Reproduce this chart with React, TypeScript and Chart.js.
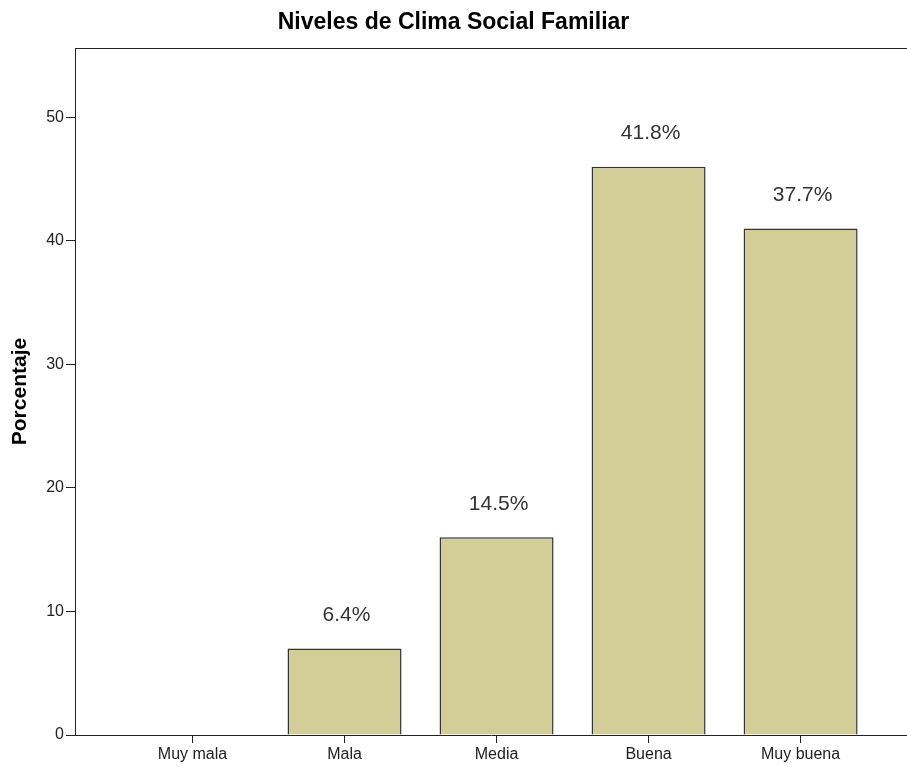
import React, { useEffect, useRef } from "react";
import { Chart, registerables } from "chart.js";

Chart.register(...registerables);

const chartTitle = "Niveles de Clima Social Familiar";
const yAxisTitle = "Porcentaje";
const categories = ["Muy mala", "Mala", "Media", "Buena", "Muy buena"];
const percentages = [0, 7, 16, 46, 41];
const barLabels = ["", "6.4%", "14.5%", "41.8%", "37.7%"];
const yTicks = [0, 10, 20, 30, 40, 50];

const FONT = "'Liberation Sans', Arial, sans-serif";
const AXIS_COLOR = "#222";

const topFramePlugin = {
  id: "topFrame",
  afterDraw(chart: any) {
    const { ctx, chartArea } = chart;
    ctx.save();
    ctx.strokeStyle = AXIS_COLOR;
    ctx.lineWidth = 1;
    ctx.beginPath();
    ctx.moveTo(chartArea.left, Math.round(chartArea.top) + 0.5);
    ctx.lineTo(chartArea.right, Math.round(chartArea.top) + 0.5);
    ctx.stroke();
    ctx.restore();
  },
};

const barLabelPlugin = {
  id: "barLabels",
  afterDatasetsDraw(chart: any) {
    const { ctx } = chart;
    const meta = chart.getDatasetMeta(0);
    ctx.save();
    ctx.font = `21px ${FONT}`;
    ctx.fillStyle = "#333";
    ctx.textAlign = "center";
    ctx.textBaseline = "middle";
    meta.data.forEach((el: any, i: number) => {
      const txt = barLabels[i];
      if (!txt) return;
      ctx.fillText(txt, el.x + 2, el.y - 33);
    });
    ctx.restore();
  },
};

export default function App() {
  const ref = useRef<HTMLCanvasElement | null>(null);

  useEffect(() => {
    if (!ref.current) return;
    const chart = new Chart(ref.current, {
      type: "bar",
      data: {
        datasets: [
          {
            data: percentages.map((v, i) => ({ x: i, y: v })),
            backgroundColor: "#D3CE97",
            borderColor: "#333",
            borderWidth: 1.5,
            barPercentage: 0.75,
            categoryPercentage: 1,
          },
        ],
      },
      options: {
        responsive: false,
        animation: false,
        layout: { padding: 0 },
        plugins: {
          legend: { display: false },
          tooltip: { enabled: false },
          title: {
            display: true,
            text: chartTitle,
            color: "#000",
            font: { family: FONT, size: 23, weight: "bold" },
            padding: { top: 9, bottom: 11.5 },
          },
        },
        scales: {
          x: {
            type: "linear",
            offset: false,
            min: -0.773,
            max: 4.7,
            afterBuildTicks: (s: any) => {
              s.ticks = categories.map((_, i) => ({ value: i }));
            },
            afterFit: (s: any) => {
              s.height = 32;
            },
            ticks: {
              callback: (v: any) => categories[v] ?? "",
              font: { family: FONT, size: 16 },
              color: AXIS_COLOR,
              padding: 2,
              maxRotation: 0,
              autoSkip: false,
            },
            grid: {
              offset: false,
              drawOnChartArea: false,
              drawTicks: true,
              tickLength: 8,
              color: AXIS_COLOR,
            },
            border: { display: true, color: AXIS_COLOR, width: 1 },
          },
          y: {
            type: "linear",
            min: 0,
            max: 55.6,
            afterBuildTicks: (s: any) => {
              s.ticks = yTicks.map((v) => ({ value: v }));
            },
            afterFit: (s: any) => {
              s.width = 75;
            },
            ticks: {
              callback: (v: any) => String(v),
              font: { family: FONT, size: 16 },
              color: AXIS_COLOR,
              padding: 2,
            },
            grid: {
              drawOnChartArea: false,
              drawTicks: true,
              tickLength: 9,
              color: AXIS_COLOR,
            },
            border: { display: true, color: AXIS_COLOR, width: 1 },
            title: {
              display: true,
              text: yAxisTitle,
              color: "#000",
              font: { family: FONT, size: 21, weight: "bold" },
              padding: { top: 8, bottom: 0 },
            },
          },
        },
      },
      plugins: [topFramePlugin, barLabelPlugin],
    });
    return () => chart.destroy();
  }, []);

  return (
    <div style={{ position: "fixed", left: 0, top: 0, width: 907, height: 767, background: "#fff" }}>
      <canvas ref={ref} width={907} height={767} style={{ display: "block" }} />
    </div>
  );
}
